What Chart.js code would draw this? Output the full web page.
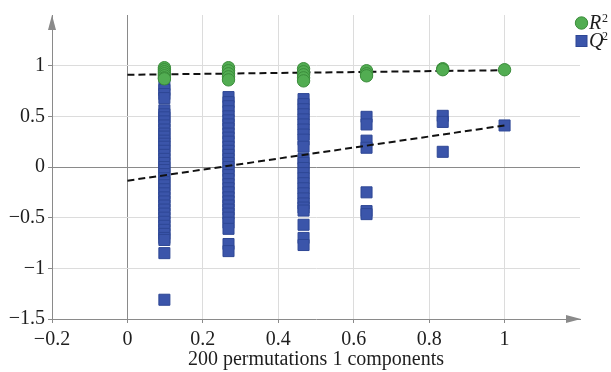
<!DOCTYPE html>
<html>
<head>
<meta charset="utf-8">
<script src="https://cdn.jsdelivr.net/npm/chart.js@4"></script>
<style>
  body { margin: 0; background: #fff; }
</style>
</head>
<body>
<canvas id="permChart" width="611" height="372"></canvas>
<script>
// permutation x positions (correlation with original y)
const permX = [0.098, 0.268, 0.467, 0.634, 0.836, 1.0];

// R2 values at each x position
const r2Values = [
  [0.98, 0.96, 0.94, 0.92, 0.9, 0.88, 0.87],
  [0.98, 0.95, 0.92, 0.89, 0.86],
  [0.97, 0.94, 0.91, 0.88, 0.85],
  [0.95, 0.92, 0.9],
  [0.97, 0.96],
  [0.96]
];

// Q2 values at each x position
const q2Values = [
  [0.81, 0.76, 0.72, 0.68, 0.56, 0.52, 0.49, 0.45, 0.41, 0.37, 0.33, 0.3, 0.26, 0.23, 0.2,
   0.16, 0.12, 0.08, 0.04, 0.0, -0.03, -0.07, -0.11, -0.15, -0.18, -0.22, -0.26, -0.3,
   -0.34, -0.38, -0.42, -0.46, -0.5, -0.54, -0.58, -0.62, -0.66, -0.7, -0.72, -0.85, -1.31],
  [0.69, 0.64, 0.6, 0.55, 0.5, 0.46, 0.42, 0.38, 0.33, 0.29, 0.25, 0.2, 0.16, 0.12, 0.08,
   0.04, 0.0, -0.04, -0.08, -0.12, -0.17, -0.21, -0.25, -0.3, -0.34, -0.38, -0.42, -0.46,
   -0.5, -0.55, -0.61, -0.76, -0.83],
  [0.67, 0.62, 0.57, 0.52, 0.47, 0.42, 0.37, 0.32, 0.27, 0.2, 0.08, 0.04, -0.01, -0.06,
   -0.11, -0.16, -0.21, -0.26, -0.31, -0.36, -0.4, -0.43, -0.57, -0.7, -0.77],
  [0.495, 0.42, 0.26, 0.19, -0.25, -0.435, -0.465],
  [0.505, 0.445, 0.15],
  [0.41]
];

// regression lines
const fitX = [0, 1];
const r2Fit = [0.91, 0.955];
const q2Fit = [-0.135, 0.41];

const green = '#52ad52', greenEdge = '#3b8c3b';
const blue = '#3b55aa', blueEdge = '#2e4795';
const serif = 'Liberation Serif';

const toPts = (vals) => permX.flatMap((x, i) => vals[i].map(y => ({ x: x, y: y })));
const fmt = (v) => (v < 0 ? '\u2212' : '') + Math.abs(v);

const arrowsAndLegend = {
  id: 'arrowsAndLegend',
  afterDraw(chart) {
    const ctx = chart.ctx;
    const a = chart.chartArea;
    ctx.save();
    ctx.fillStyle = '#8a8a8a';
    // x arrow
    ctx.beginPath();
    ctx.moveTo(a.right + 1, a.bottom);
    ctx.lineTo(a.right - 14, a.bottom - 4);
    ctx.lineTo(a.right - 14, a.bottom + 4);
    ctx.closePath();
    ctx.fill();
    // y arrow
    ctx.beginPath();
    ctx.moveTo(a.left, a.top);
    ctx.lineTo(a.left - 4, a.top + 15);
    ctx.lineTo(a.left + 4, a.top + 15);
    ctx.closePath();
    ctx.fill();

    // legend
    ctx.fillStyle = green;
    ctx.strokeStyle = greenEdge;
    ctx.lineWidth = 1;
    ctx.beginPath();
    ctx.arc(581.5, 23, 6.2, 0, Math.PI * 2);
    ctx.fill();
    ctx.stroke();
    ctx.fillStyle = blue;
    ctx.strokeStyle = blueEdge;
    ctx.fillRect(576, 35.5, 11, 11);
    ctx.strokeRect(576, 35.5, 11, 11);

    ctx.fillStyle = '#1e1e1e';
    ctx.textBaseline = 'alphabetic';
    ctx.textAlign = 'left';
    ctx.font = 'italic 20px "' + serif + '"';
    ctx.fillText('R', 589, 29);
    ctx.fillText('Q', 589, 47);
    ctx.font = '12px "' + serif + '"';
    ctx.fillText('2', 602, 22);
    ctx.fillText('2', 602, 40);
    ctx.restore();
  }
};

new Chart(document.getElementById('permChart'), {
  type: 'scatter',
  data: {
    datasets: [
      {
        label: 'R2',
        data: toPts(r2Values),
        pointStyle: 'circle',
        pointRadius: 6.2,
        backgroundColor: green,
        borderColor: greenEdge,
        borderWidth: 1,
        order: 0
      },
      {
        label: 'R2 fit',
        data: fitX.map((x, i) => ({ x: x, y: r2Fit[i] })),
        showLine: true,
        pointRadius: 0,
        borderColor: '#111',
        borderWidth: 2,
        borderDash: [7, 4],
        order: 1
      },
      {
        label: 'Q2 fit',
        data: fitX.map((x, i) => ({ x: x, y: q2Fit[i] })),
        showLine: true,
        pointRadius: 0,
        borderColor: '#111',
        borderWidth: 2,
        borderDash: [7, 4],
        order: 1
      },
      {
        label: 'Q2',
        data: toPts(q2Values),
        pointStyle: 'rect',
        pointRadius: 7.8,
        backgroundColor: blue,
        borderColor: blueEdge,
        borderWidth: 1,
        order: 2
      }
    ]
  },
  options: {
    responsive: false,
    animation: false,
    layout: { padding: { top: 13, right: 31, left: 0, bottom: 0 } },
    plugins: {
      legend: { display: false },
      tooltip: { enabled: false }
    },
    scales: {
      x: {
        type: 'linear',
        min: -0.2,
        max: 1.2,
        afterFit: (s) => { s.height = 53; },
        ticks: {
          stepSize: 0.1,
          color: '#1e1e1e',
          font: { family: serif, size: 20 },
          padding: 5,
          maxRotation: 0,
          autoSkip: false,
          callback: (v) => {
            const t = Math.round(v * 10);
            return (t % 2 === 0 && t <= 10) ? fmt(t / 10) : null;
          }
        },
        grid: {
          tickLength: 4,
          tickColor: '#8a8a8a',
          color: (c) => {
            const t = Math.round(c.tick.value * 10);
            if (t === 0) return '#8a8a8a';
            if (t % 2 === 0 && t > -2 && t <= 10) return '#dcdcdc';
            return 'rgba(0,0,0,0)';
          }
        },
        border: { color: '#8a8a8a', width: 1 },
        title: {
          display: true,
          text: '200 permutations 1 components',
          color: '#1e1e1e',
          font: { family: serif, size: 20 },
          padding: 0
        }
      },
      y: {
        min: -1.5,
        max: 1.5,
        afterFit: (s) => { s.width = 52; },
        ticks: {
          stepSize: 0.25,
          color: '#1e1e1e',
          font: { family: serif, size: 20 },
          padding: 3,
          autoSkip: false,
          callback: (v) => {
            const t = Math.round(v * 4);
            return (t % 2 === 0 && t < 6) ? fmt(t / 4) : null;
          }
        },
        grid: {
          tickLength: 4,
          tickColor: '#8a8a8a',
          color: (c) => {
            const t = Math.round(c.tick.value * 4);
            if (t === 0) return '#8a8a8a';
            if (t % 2 === 0 && Math.abs(t) <= 4) return '#dcdcdc';
            return 'rgba(0,0,0,0)';
          }
        },
        border: { color: '#8a8a8a', width: 1 }
      }
    }
  },
  plugins: [arrowsAndLegend]
});
</script>
</body>
</html>
